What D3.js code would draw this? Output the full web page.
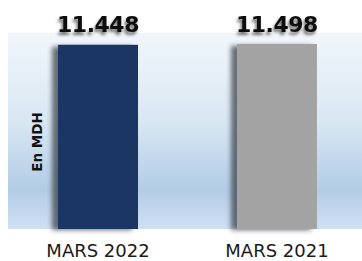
<!DOCTYPE html>
<html>
<head>
<meta charset="utf-8">
<script src="https://cdn.jsdelivr.net/npm/d3@7"></script>
<style>
  html, body { margin: 0; padding: 0; background: #fff; }
  svg { display: block; }
</style>
</head>
<body>
<div id="chart"></div>
<script>
// données du graphique
const categories = ['MARS 2022', 'MARS 2021'];
const values = [11.448, 11.498];
const valueLabels = ['11.448', '11.498'];
const barColors = ['#1c3663', '#a3a3a3'];
const unitLabel = 'En MDH';

const width = 362, height = 261;
const plot = { left: 8, right: 362, top: 33, bottom: 229 };

const svg = d3.select('#chart')
    .append('svg')
    .attr('width', width)
    .attr('height', height);

const defs = svg.append('defs');

// dégradé du fond
const grad = defs.append('linearGradient')
    .attr('id', 'bg-grad')
    .attr('x1', 0).attr('y1', 0).attr('x2', 0).attr('y2', 1);
[['0%', '#f1f6fb'], ['45%', '#d9e7f3'], ['80%', '#b3cce6'], ['100%', '#cfe0f1']]
    .forEach(([o, c]) => grad.append('stop').attr('offset', o).attr('stop-color', c));

// ombre des barres
defs.append('filter')
    .attr('id', 'bar-shadow')
    .attr('x', '-30%').attr('y', '-10%').attr('width', '160%').attr('height', '130%')
    .append('feGaussianBlur')
    .attr('stdDeviation', 2.5);

// ombre du texte
defs.append('filter')
    .attr('id', 'txt-shadow')
    .attr('x', '-20%').attr('y', '-30%').attr('width', '140%').attr('height', '160%')
    .append('feDropShadow')
    .attr('dx', -1.5).attr('dy', 3)
    .attr('stdDeviation', 1.8)
    .attr('flood-color', '#000')
    .attr('flood-opacity', 0.55);

svg.append('rect')
    .attr('x', plot.left)
    .attr('y', plot.top)
    .attr('width', plot.right - plot.left)
    .attr('height', plot.bottom - plot.top)
    .attr('fill', 'url(#bg-grad)');

const x = d3.scaleBand()
    .domain(categories)
    .range([0, width])
    .paddingInner(0.553)
    .paddingOuter(0.288)
    .align(0.563);

const y = d3.scaleLinear()
    .domain([0, 12.18])
    .range([plot.bottom, plot.top]);

const data = categories.map((c, i) => ({ cat: c, value: values[i], label: valueLabels[i], color: barColors[i] }));

// ombres
svg.append('g')
    .selectAll('rect')
    .data(data)
    .join('rect')
    .attr('x', d => x(d.cat) - 6)
    .attr('y', d => y(d.value) + 2)
    .attr('width', x.bandwidth())
    .attr('height', d => y(0) - y(d.value) - 1)
    .attr('fill', '#3a3f47')
    .attr('opacity', 0.75)
    .attr('filter', 'url(#bar-shadow)');

// barres
svg.append('g')
    .selectAll('rect')
    .data(data)
    .join('rect')
    .attr('x', d => x(d.cat))
    .attr('y', d => y(d.value))
    .attr('width', x.bandwidth())
    .attr('height', d => y(0) - y(d.value))
    .attr('fill', d => d.color);

// valeurs
svg.append('g')
    .selectAll('text')
    .data(data)
    .join('text')
    .attr('x', d => x(d.cat) + x.bandwidth() / 2)
    .attr('y', 32)
    .attr('text-anchor', 'middle')
    .attr('font-family', 'DejaVu Sans, sans-serif')
    .attr('font-weight', 'bold')
    .attr('font-size', 22)
    .attr('letter-spacing', -0.5)
    .attr('fill', '#111')
    .attr('filter', 'url(#txt-shadow)')
    .text(d => d.label);

// axe des catégories
const xAxis = svg.append('g')
    .attr('transform', `translate(0,${plot.bottom})`)
    .call(d3.axisBottom(x).tickSize(0).tickPadding(15));
xAxis.select('.domain').remove();
xAxis.selectAll('text')
    .attr('font-family', 'DejaVu Sans, sans-serif')
    .attr('font-size', 18)
    .attr('fill', '#1a1a1a');

// unité
svg.append('text')
    .attr('transform', 'translate(41.5,142) rotate(-90)')
    .attr('text-anchor', 'middle')
    .attr('font-family', 'DejaVu Sans, sans-serif')
    .attr('font-weight', 'bold')
    .attr('font-size', 13.5)
    .attr('fill', '#111')
    .text(unitLabel);
</script>
</body>
</html>
